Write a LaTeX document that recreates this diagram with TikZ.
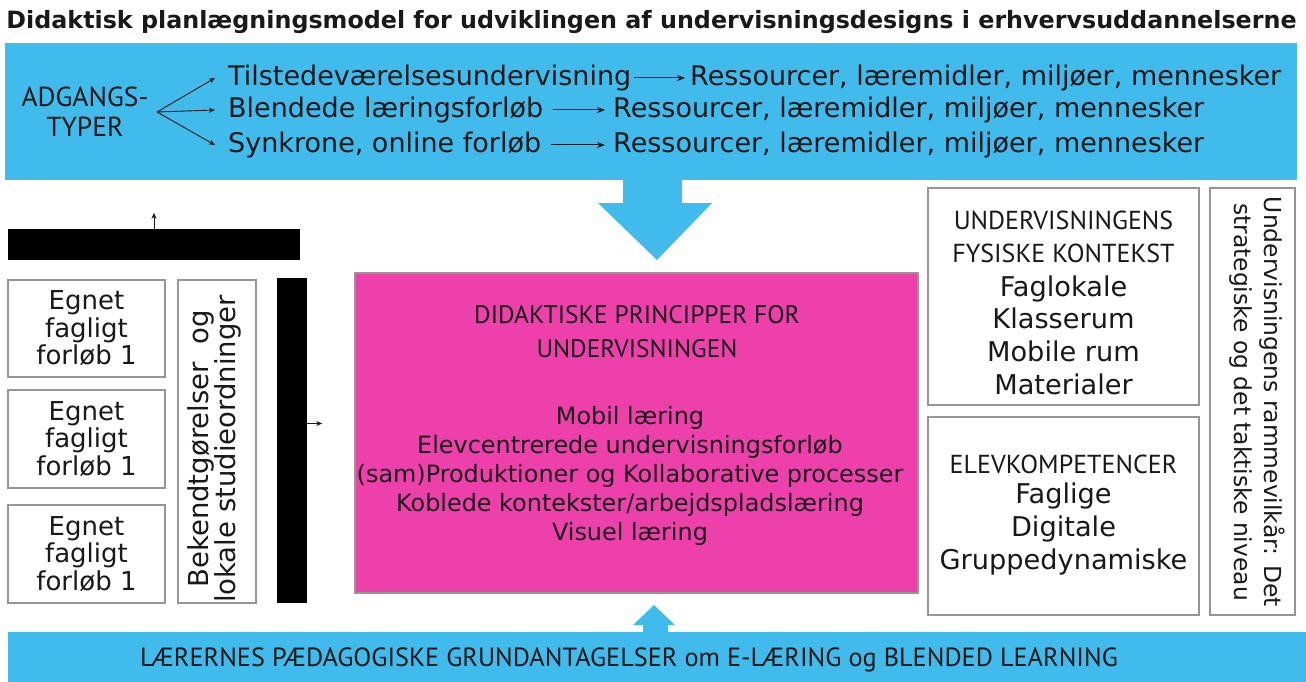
\documentclass[tikz,border=0pt]{standalone}
\usepackage{fontspec}
\setmainfont{DejaVu Sans}
\newfontfamily\capsf{PT Sans}
\usetikzlibrary{arrows.meta}
\definecolor{bandblue}{RGB}{64,187,235}
\definecolor{pinkbox}{RGB}{238,64,170}
\definecolor{boxgray}{RGB}{150,150,150}
\definecolor{ink}{RGB}{25,25,25}
\newcommand{\fsz}[2]{\fontsize{#1}{#2}\selectfont}
\begin{document}
\begin{tikzpicture}[x=1pt,y=-1pt,
  box/.style={draw=boxgray,line width=1.5pt,fill=white,inner sep=0pt},
  blackbar/.style={fill=black,inner sep=0pt},
  txt/.style={inner sep=0pt,align=center,text=ink},
  arr/.style={-{Stealth[length=8pt,width=6pt]},line width=1pt,draw=ink},
  smallarr/.style={-{Stealth[length=6pt,width=5pt]},line width=0.9pt,draw=ink}]
\useasboundingbox (0,0) rectangle (1306,682);

% title
\node[txt,font=\bfseries\fsz{23.8}{26}] (title) at (651.5,22) {Didaktisk planlægningsmodel for udviklingen af undervisningsdesigns i erhvervsuddannelserne};

% top band
\fill[bandblue] (5,43) rectangle (1297,180);
\node[txt,font=\capsf\fsz{27.5}{30}] (adg) at (85,112) {ADGANGS-\\TYPER};
\coordinate (fan) at (157,112);
\node[txt,anchor=west,font=\fsz{27}{30}] (t1) at (228,78) {Tilstedeværelsesundervisning};
\node[txt,anchor=west,font=\fsz{27}{30}] (t2) at (228,110) {Blendede læringsforløb};
\node[txt,anchor=west,font=\fsz{27}{30}] (t3) at (228,145) {Synkrone, online forløb};
\node[txt,anchor=west,font=\fsz{27}{30}] (r1) at (690,78) {Ressourcer, læremidler, miljøer, mennesker};
\node[txt,anchor=west,font=\fsz{27}{30}] (r2) at (613,110) {Ressourcer, læremidler, miljøer, mennesker};
\node[txt,anchor=west,font=\fsz{27}{30}] (r3) at (613,145) {Ressourcer, læremidler, miljøer, mennesker};
\draw[smallarr] (fan) -- ([xshift=-13pt]t1.west);
\draw[smallarr] (fan) -- ([xshift=-13pt]t2.west);
\draw[smallarr] (fan) -- ([xshift=-13pt]t3.west);
\draw[arr] (t1.east) ++(3,0) -- ([xshift=-5pt]r1.west);
\draw[arr] (t2.east) ++(10,0) -- ([xshift=-8pt]r2.west);
\draw[arr] (t3.east) ++(10,0) -- ([xshift=-8pt]r3.west);

% big down arrow
\fill[bandblue] (623,179) -- (682,179) -- (682,203) -- (712,203) -- (657,260) -- (598,203) -- (623,203) -- cycle;

% left column
\node[blackbar,minimum width=292pt,minimum height=31pt] (topbar) at (154,244.5) {};
\draw[smallarr] (topbar.north) -- ++(0,-16);
\node[box,minimum width=157pt,minimum height=97pt] (eg1) at (86.5,328.5) {};
\node[box,minimum width=157pt,minimum height=98pt] (eg2) at (86.5,439) {};
\node[box,minimum width=157pt,minimum height=98pt] (eg3) at (86.5,554) {};
\node[txt,font=\fsz{26}{27.5}] at (eg1) {Egnet\\fagligt\\forløb 1};
\node[txt,font=\fsz{26}{27.5}] at (eg2) {Egnet\\fagligt\\forløb 1};
\node[txt,font=\fsz{26}{27.5}] at (eg3) {Egnet\\fagligt\\forløb 1};
\node[box,minimum width=78pt,minimum height=323pt] (bek) at (217,441.5) {};
\node[txt,rotate=90,font=\fsz{27.5}{27}] at (214,449) {Bekendtgørelser\ \ og\\lokale studieordninger};
\node[blackbar,minimum width=30pt,minimum height=325pt] (vbar) at (292,440.5) {};
\draw[smallarr] ([yshift=17pt]vbar.east) -- ++(15,0);

% pink box
\node[draw=boxgray,line width=1.5pt,fill=pinkbox,minimum width=563pt,minimum height=320pt,inner sep=0pt] (pink) at (636.5,433) {};
\node[txt,font=\capsf\fsz{25.4}{34}] (ph) at (637,332) {DIDAKTISKE PRINCIPPER FOR\\UNDERVISNINGEN};
\node[txt,font=\fsz{23.9}{29}] (pb) at (630,476) {Mobil læring\\Elevcentrerede undervisningsforløb\\(sam)Produktioner og Kollaborative processer\\Koblede kontekster/arbejdspladslæring\\Visuel læring};

% right boxes
\node[box,minimum width=271pt,minimum height=217pt] (rb1) at (1063.5,296.5) {};
\node[txt,font=\capsf\fsz{26}{33}] at (1063.5,236.5) {UNDERVISNINGENS\\FYSISKE KONTEKST};
\node[txt,font=\fsz{27.2}{32.7}] at (1063.5,335) {Faglokale\\Klasserum\\Mobile rum\\Materialer};
\node[box,minimum width=271pt,minimum height=198pt] (rb2) at (1063.5,516) {};
\node[txt,font=\capsf\fsz{26}{33}] at (1063.5,464) {ELEVKOMPETENCER};
\node[txt,font=\fsz{27.2}{33}] at (1063.5,529) {Faglige\\Digitale\\Gruppedynamiske};
\node[box,minimum width=85pt,minimum height=427pt] (rtall) at (1252.5,401.5) {};
\node[txt,rotate=-90,font=\fsz{23.4}{30}] at (1257,402) {Undervisningens rammevilkår: Det\\strategiske og det taktiske niveau};

% bottom band and up arrow
\fill[bandblue] (8,632) rectangle (1306,682);
\fill[bandblue] (643,633) -- (643,625) -- (633,625) -- (654,605) -- (675,625) -- (668,625) -- (668,633) -- cycle;
\node[txt,font=\capsf\fsz{26.3}{30}] (bot) at (629,660) {LÆRERNES PÆDAGOGISKE GRUNDANTAGELSER om E-LÆRING og BLENDED LEARNING};
\end{tikzpicture}
\end{document}
